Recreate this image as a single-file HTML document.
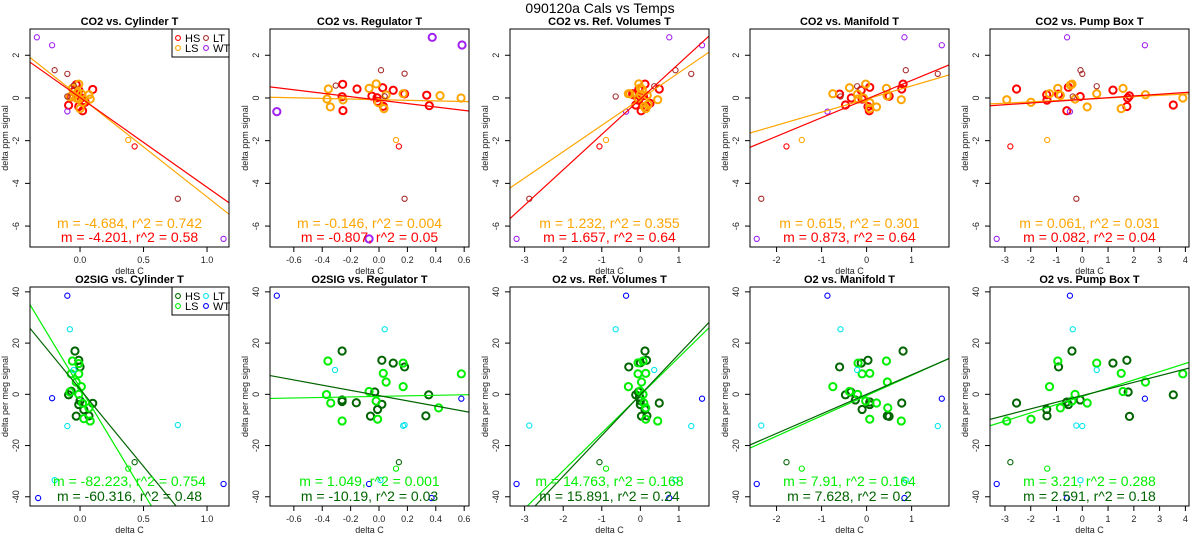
<!DOCTYPE html>
<html><head><meta charset="utf-8"><style>
html,body{margin:0;padding:0;background:#fff;width:1200px;height:550px;overflow:hidden;}
svg{display:block;font-family:"Liberation Sans",Arial,sans-serif;}
</style></head><body>
<svg id="chart" width="1200" height="550" viewBox="0 0 1200 550" xmlns="http://www.w3.org/2000/svg">
<text x="600" y="13" text-anchor="middle" font-size="14">090120a   Cals vs Temps</text>
</svg>
<script>
// ---------- data ----------
const panelTitles = ["CO2 vs. Cylinder T","CO2 vs. Regulator T","CO2 vs. Ref. Volumes T","CO2 vs. Manifold T","CO2 vs. Pump Box T",
 "O2SIG vs. Cylinder T","O2SIG vs. Regulator T","O2 vs. Ref. Volumes T","O2 vs. Manifold T","O2 vs. Pump Box T"];
const xDomains = [[-0.394,1.173],[-0.768,0.634],[-3.38,1.78],[-2.59,1.83],[-3.58,4.14]];
const xTicks = [[0,0.5,1],[-0.6,-0.4,-0.2,0,0.2,0.4,0.6],[-3,-2,-1,0,1],[-2,-1,0,1],[-3,-2,-1,0,1,2,3,4]];
const xTickLabels = [["0.0","0.5","1.0"],["-0.6","-0.4","-0.2","0.0","0.2","0.4","0.6"],["-3","-2","-1","0","1"],["-2","-1","0","1"],["-3","-2","-1","0","1","2","3","4"]];
const yDomainCO2 = [-6.98,3.23];
const yDomainO2 = [-43.6,41.9];
const yTicksCO2 = [-6,-4,-2,0,2];
const yTicksO2 = [-40,-20,0,20,40];

const co2HS = [
 [[-0.09,-0.34],[-0.03,0.62],[-0.01,0.37],[-0.01,-0.4],[0.02,-0.6],[0.03,-0.12],[0.1,0.4],[-0.07,0.05],[-0.02,0.15],[0.01,0],[-0.05,0.3],[0.04,-0.2]],
 [[-0.256,0.64],[-0.155,0.42],[0.026,0.48],[0.1,0.36],[-0.26,0.06],[-0.05,0.09],[-0.014,0.01],[-0.01,-0.16],[0.03,-0.39],[0.336,0.13],[0.354,-0.36],[-0.254,-0.59],[0.18,0.19]],
 [[0.12,0.65],[0.49,0.42],[-0.12,-0.33],[0.02,-0.6],[0.12,-0.1],[-0.2,0.2],[-0.04,0.4],[0.16,-0.4],[0,0.05],[0.08,0.1],[0.25,-0.25],[-0.18,0.15],[-0.05,-0.1]],
 [[-0.6,0.18],[-0.34,0],[-0.47,-0.33],[-0.12,0.36],[0.07,0.5],[-0.1,-0.05],[0.03,-0.4],[0.06,-0.6],[0.81,0.65],[0.78,0.42],[0.46,0.1],[0.5,0.08]],
 [[-2.55,0.42],[-1.38,0.15],[-1.37,-0.1],[-0.92,0.18],[-0.54,0.5],[-0.6,-0.6],[-0.08,0.07],[1.19,0.37],[1.76,0],[1.83,0.1],[1.73,-0.4],[3.53,-0.33]]
];
const co2LS = [
 [[-0.06,0.45],[-0.01,0.65],[0.08,-0.05],[0.07,0.15],[0.01,0.2],[0,-0.5],[-0.03,0],[-0.05,0.1],[-0.08,0.05],[0.02,-0.2],[-0.02,0.25],[-0.01,-0.05]],
 [[-0.357,0.42],[-0.07,0.45],[-0.02,0.66],[-0.366,-0.05],[-0.254,-0.09],[-0.343,-0.42],[0.05,0.14],[-0.005,-0.22],[0.035,-0.5],[0.17,0.2],[0.43,0.11],[0.578,0]],
 [[-0.04,0.66],[0,0.47],[-0.31,0.2],[-0.06,0],[0.45,-0.08],[0.14,-0.5],[0.05,0.4],[0.18,0.12],[0.2,-0.3],[0,0.15],[0.1,-0.4],[-0.27,0.2]],
 [[-0.75,0.2],[-0.38,0.48],[-0.02,0.65],[-0.2,0.18],[-0.19,-0.05],[-0.07,0],[0.07,-0.22],[0.07,-0.5],[0.22,-0.42],[0.44,0.45],[0.46,0.1],[0.77,-0.08]],
 [[-2.93,-0.08],[-1.99,-0.2],[-1.27,0.2],[-0.95,0.45],[-0.85,0.12],[-0.46,0.6],[-0.4,0.65],[-0.28,-0.05],[0.19,-0.42],[0.56,0.2],[1.58,0.45],[1.51,-0.5],[2.45,0.15],[3.9,0]]
];
const co2HSx = [[[0.43,-2.27]],[[0.14,-2.27]],[[-1.06,-2.27]],[[-1.78,-2.27]],[[-2.79,-2.27]]];
const co2LSx = [[[0.38,-1.97]],[[0.12,-1.97]],[[-0.89,-1.97]],[[-1.44,-1.97]],[[-1.36,-1.97]]];
const co2LT = [
 [[-0.2,1.3],[-0.1,1.13],[-0.05,0.58],[-0.1,0.07],[0.77,-4.72]],
 [[0.014,1.3],[0.18,1.14],[-0.305,0.58],[0.04,0.08],[0.18,-4.72]],
 [[0.91,1.3],[1.32,1.13],[0.36,0.55],[-0.64,0.07],[-2.88,-4.72]],
 [[0.87,1.3],[1.58,1.13],[-0.21,0.55],[-0.58,0.07],[-2.34,-4.72]],
 [[-0.07,1.3],[0,1.13],[0.56,0.55],[-0.37,0.07],[-0.23,-4.72]]
];
const co2WT = [
 [[-0.34,2.84],[-0.22,2.47],[-0.1,-0.63],[1.13,-6.6]],
 [[0.375,2.84],[0.585,2.48],[-0.72,-0.64],[-0.07,-6.6]],
 [[0.75,2.84],[1.6,2.47],[-0.37,-0.64],[-3.21,-6.6]],
 [[0.84,2.84],[1.67,2.47],[-0.87,-0.64],[-2.44,-6.6]],
 [[-0.59,2.84],[2.43,2.47],[-0.48,-0.64],[-3.32,-6.6]]
];
const o2HS = [
 [[-0.04,16.9],[-0.01,13.3],[0,10.7],[-0.09,-0.2],[-0.01,-4],[0.03,-6],[0.07,-8.4],[-0.03,-8.5],[0.1,-3.5],[-0.07,1.2],[0,-2.5]],
 [[-0.26,16.9],[0.02,13.3],[0.1,12.2],[0.18,10.7],[-0.03,0.9],[-0.26,-2.2],[-0.26,-2.8],[-0.16,-3.3],[0.02,-3.9],[-0.01,-5.9],[-0.06,-8.5],[0.33,-8.4],[0.35,-0.2]],
 [[0.12,16.9],[0.16,13.3],[0,12.3],[-0.3,10.7],[-0.05,0.9],[-0.12,-0.2],[0,-2.5],[0,-4],[0.12,-5.9],[0.03,-8.5],[0.49,-3.4],[0.17,-8.4],[-0.02,-1]],
 [[0.81,16.9],[0.03,13.3],[-0.12,12.2],[-0.6,10.7],[-0.35,0.9],[-0.47,-0.2],[-0.25,-2.2],[0.07,-3],[0.07,-4],[-0.1,-5.9],[0.46,-8.4],[0.5,-8.6],[0.78,-3.4]],
 [[-0.4,16.9],[1.73,13.3],[1.19,12.2],[-0.92,10.7],[1.78,0.9],[3.53,-0.2],[-0.08,-2.2],[-2.55,-3.4],[-0.6,-3],[-0.54,-4],[-1.38,-5.9],[-1.37,-8.4],[1.83,-8.6]]
];
const o2LS = [
 [[-0.06,13],[-0.01,12],[-0.07,8],[-0.01,8],[-0.03,4.8],[0.01,3],[-0.01,0],[-0.08,0.9],[0.02,-3.5],[0.07,-5.3],[0.03,-9.5],[0.08,-10.4]],
 [[-0.36,13],[0.17,12.2],[0.03,8.2],[0.58,8],[0.05,4.8],[0.17,3],[-0.37,-0.1],[-0.34,-3.4],[-0.07,1.1],[-0.02,-2.6],[-0.01,-9.7],[-0.26,-10.4],[0.42,-5.3]],
 [[-0.06,12.3],[0.07,13],[-0.06,8],[0.14,8.2],[0.03,4.8],[-0.31,3],[0.07,0],[-0.01,1.3],[0.09,-3.4],[0.14,-5.3],[0.14,-9.7],[0.45,-10.4]],
 [[-0.19,12.2],[0.44,13],[-0.1,8],[0.07,8.2],[0.46,4.8],[-0.75,3],[-0.38,1.1],[-0.2,0],[-0.02,-2.6],[0.22,-3.4],[0.47,-5.3],[0.07,-9.7],[0.77,-10.4]],
 [[-0.95,13],[0.56,12.2],[1.51,8.2],[3.9,8],[2.45,4.8],[-1.27,3],[1.58,1.1],[-0.28,0],[-0.4,-2.6],[0.19,-3.4],[-0.85,-5.3],[-1.99,-9.7],[-2.93,-10.4]]
];
const o2HSx = [[[0.43,-26.5]],[[0.14,-26.5]],[[-1.06,-26.5]],[[-1.78,-26.5]],[[-2.79,-26.5]]];
const o2LSx = [[[0.38,-29]],[[0.12,-29]],[[-0.89,-29]],[[-1.44,-29]],[[-1.36,-29]]];
const o2LT = [
 [[-0.08,25.4],[-0.05,9.5],[-0.1,-12.4],[0.77,-12],[-0.2,-33.5]],
 [[0.04,25.4],[-0.31,9.5],[0.17,-12.3],[0.18,-12],[0.01,-33.5]],
 [[-0.64,25.4],[0.36,9.5],[-2.88,-12.2],[1.32,-12.4],[0.91,-33.5]],
 [[-0.58,25.4],[-0.21,9.5],[-2.34,-12.2],[1.58,-12.4],[0.87,-33.5]],
 [[-0.37,25.4],[0.56,9.5],[-0.23,-12.2],[0,-12.4],[-0.07,-33.5]]
];
const o2WT = [
 [[-0.1,38.5],[-0.22,-1.5],[-0.33,-40.5],[1.13,-35]],
 [[-0.72,38.5],[0.58,-1.7],[-0.07,-35],[0.37,-40.5]],
 [[-0.37,38.5],[1.6,-1.7],[-3.21,-35],[0.75,-40.5]],
 [[-0.87,38.5],[1.67,-1.7],[-2.44,-35],[0.84,-40.5]],
 [[-0.48,38.5],[2.43,-1.7],[-3.32,-35],[-0.59,-40.5]]
];
const co2SlopeHS = [-4.201,-0.807,1.657,0.873,0.082];
const co2InterHS = [0.02,-0.1,-0.05,-0.05,-0.07];
const co2SlopeLS = [-4.684,-0.146,1.232,0.615,0.061];
const co2InterLS = [0.05,-0.08,-0.05,-0.05,-0.06];
const o2SlopeHS = [-60.316,-10.19,15.891,7.628,2.591];
const o2InterHS = [2.0,-0.5,-0.2,0,-0.5];
const o2SlopeLS = [-82.223,1.049,14.763,7.91,3.21];
const o2InterLS = [2.6,-0.8,-0.3,-0.5,-0.8];
const co2LabelLS = ["m = -4.684, r^2 = 0.742","m = -0.146, r^2 = 0.004","m = 1.232, r^2 = 0.355","m = 0.615, r^2 = 0.301","m = 0.061, r^2 = 0.031"];
const co2LabelHS = ["m = -4.201, r^2 = 0.58","m = -0.807, r^2 = 0.05","m = 1.657, r^2 = 0.64","m = 0.873, r^2 = 0.64","m = 0.082, r^2 = 0.04"];
const o2LabelLS = ["m = -82.223, r^2 = 0.754","m = 1.049, r^2 = 0.001","m = 14.763, r^2 = 0.168","m = 7.91, r^2 = 0.164","m = 3.21, r^2 = 0.288"];
const o2LabelHS = ["m = -60.316, r^2 = 0.48","m = -10.19, r^2 = 0.03","m = 15.891, r^2 = 0.24","m = 7.628, r^2 = 0.2","m = 2.591, r^2 = 0.18"];

// ---------- drawing ----------
const NS = "http://www.w3.org/2000/svg";
const svg = document.getElementById("chart");
function mk(tag, attrs, parent){ const e=document.createElementNS(NS,tag); for(const k in attrs) e.setAttribute(k,attrs[k]); (parent||svg).appendChild(e); return e; }

const co2Colors = {HS:"#ff0000",LS:"#ffa500",LT:"#a52a2a",WT:"#a020f0"};
const o2Colors = {HS:"#006400",LS:"#00ee00",LT:"#00e5ee",WT:"#0000ff"};

function drawPanel(idx, row){
  const col = idx;
  const x0 = 30+240*col, x1 = 229+240*col;
  const y0 = row===0?29:287, y1 = row===0?247:506;
  const xd = xDomains[col];
  const yd = row===0?yDomainCO2:yDomainO2;
  const sx = v => x0 + (v-xd[0])/(xd[1]-xd[0])*(x1-x0);
  const sy = v => y1 - (v-yd[0])/(yd[1]-yd[0])*(y1-y0);
  const colors = row===0?co2Colors:o2Colors;
  const g = mk("g",{});
  
  
  const clipId = "clip"+row+col;
  const cp = mk("clipPath",{id:clipId},g);
  mk("rect",{x:x0,y:y0,width:x1-x0,height:y1-y0},cp);

  const t = mk("text",{x:(x0+x1)/2,y:row===0?25:283,"text-anchor":"middle","font-size":"11","font-weight":"bold"},g);
  t.textContent = panelTitles[row*5+col];
  
  

  xTicks[col].forEach((v,i)=>{
    const px = sx(v);
    mk("line",{x1:px,x2:px,y1:y1,y2:y1+5,stroke:"#000","stroke-width":1},g);
    const tl = mk("text",{x:px,y:y1+16,"text-anchor":"middle","font-size":"9",fill:"#222"},g);
    tl.textContent = xTickLabels[col][i];
    
    
  });
  const xt = mk("text",{x:(x0+x1)/2,y:y1+27,"text-anchor":"middle","font-size":"9",fill:"#222"},g);
  xt.textContent = "delta C";
  
  
  const yt = row===0?yTicksCO2:yTicksO2;
  yt.forEach(v=>{
    const py = sy(v);
    mk("line",{x1:x0-5,x2:x0,y1:py,y2:py,stroke:"#000","stroke-width":1},g);
    const tl = mk("text",{x:x0-11,y:py,"text-anchor":"middle","font-size":"9",fill:"#222",transform:`rotate(-90 ${x0-11} ${py})`},g);
    tl.textContent = String(v);
    
    
  });
  const ymid = (y0+y1)/2, ytx = x0-22;
  const ya = mk("text",{x:ytx,y:ymid,"text-anchor":"middle","font-size":"9",fill:"#222",transform:`rotate(-90 ${ytx} ${ymid})`},g);
  ya.textContent = row===0?"delta ppm signal":"delta per meg signal";
  
  

  const pg = mk("g",{"clip-path":`url(#${clipId})`},g);
  const sets = row===0
    ? [[co2HS[col],"HS",true],[co2LS[col],"LS",true],[co2HSx[col],"HS",false],[co2LSx[col],"LS",false],[co2LT[col],"LT",false],[co2WT[col],"WT",col===1]]
    : [[o2HS[col],"HS",true],[o2LS[col],"LS",true],[o2HSx[col],"HS",false],[o2LSx[col],"LS",false],[o2LT[col],"LT",false],[o2WT[col],"WT",false]];
  sets.forEach(([pts,grp,big])=>{
    pts.forEach(p=>{
      const c = mk("circle",{cx:sx(p[0]),cy:sy(p[1]),r:big?3.6:2.6,fill:"none",stroke:colors[grp],"stroke-width":big?2:1.1},pg);
      
      
    });
  });
  const lines = row===0
    ? [[co2SlopeLS[col],co2InterLS[col],colors.LS,"fit-line-ls"],[co2SlopeHS[col],co2InterHS[col],colors.HS,"fit-line-hs"]]
    : [[o2SlopeLS[col],o2InterLS[col],colors.LS,"fit-line-ls"],[o2SlopeHS[col],o2InterHS[col],colors.HS,"fit-line-hs"]];
  lines.forEach(([m,b,c,nm])=>{
    // clip the abline to the plot domain in data space
    let xa = xd[0], xb = xd[1];
    if (m !== 0) {
      const xl = (yd[0]-b)/m, xh = (yd[1]-b)/m;
      xa = Math.max(xa, Math.min(xl,xh));
      xb = Math.min(xb, Math.max(xl,xh));
    }
    if (xb <= xa) return;
    const l = mk("line",{x1:sx(xa),y1:sy(m*xa+b),x2:sx(xb),y2:sy(m*xb+b),stroke:c,"stroke-width":1.2},pg);
    
    
  });
  const cx = (x0+x1)/2;
  const a1 = mk("text",{x:cx,y:row===0?228:486,"text-anchor":"middle","font-size":"14",fill:colors.LS},g);
  a1.textContent = row===0?co2LabelLS[col]:o2LabelLS[col];
  
  
  const a2 = mk("text",{x:cx,y:row===0?242:501,"text-anchor":"middle","font-size":"14",fill:colors.HS},g);
  a2.textContent = row===0?co2LabelHS[col]:o2LabelHS[col];
  
  

  const bx = mk("rect",{x:x0,y:y0,width:x1-x0,height:y1-y0,fill:"none",stroke:"#000","stroke-width":1},g);
  
  

  if(col===0){
    const ly0 = row===0?29:287;
    const lg = mk("g",{},g);
    
    
    mk("rect",{x:172,y:ly0,width:57,height:28,fill:"#fff",stroke:"#000","stroke-width":1},lg);
    const entries = [["HS",178,ly0+9],["LT",206,ly0+9],["LS",178,ly0+19],["WT",206,ly0+19]];
    entries.forEach(([nm,lx,ly])=>{
      const e = mk("g",{},lg);
      
      
      mk("circle",{cx:lx,cy:ly,r:2.4,fill:"none",stroke:colors[nm],"stroke-width":1.1},e);
      const tx = mk("text",{x:lx+7,y:ly+4,"font-size":"11"},e);
      tx.textContent = nm;
    });
  }
}
for(let r=0;r<2;r++) for(let c=0;c<5;c++) drawPanel(c,r);
</script>
</body></html>
